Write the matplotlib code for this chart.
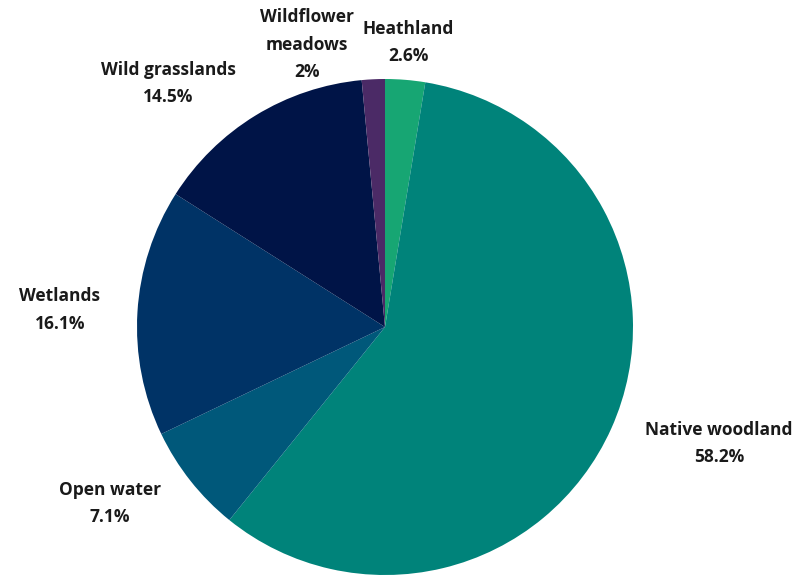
import numpy as np
import matplotlib.pyplot as plt

plt.rcParams['font.family'] = ['Open Sans', 'DejaVu Sans']

labels = ["Heathland", "Native woodland", "Open water", "Wetlands",
          "Wild grasslands", "Wildflower\nmeadows"]
values = [2.6, 58.2, 7.1, 16.1, 14.5, 1.5]   # meadows drawn ~1.5, labelled 2%
pct_text = ["2.6%", "58.2%", "7.1%", "16.1%", "14.5%", "2%"]
colors = ["#17a673", "#00837a", "#00587a", "#003366", "#001447", "#4b2a66"]

fig = plt.figure(figsize=(8, 5.76), dpi=100)
r = 248
ax = fig.add_axes([(385 - r) / 800, (576 - 327 - r) / 576, 2 * r / 800, 2 * r / 576])

texts_lbl = [f"{l}\n{p}" for l, p in zip(labels, pct_text)]
wedges, texts = ax.pie(values, labels=texts_lbl, colors=colors, startangle=90,
                       counterclock=False, labeldistance=1.15,
                       textprops=dict(fontsize=12.5, fontweight='bold', color='#1a1a1a',
                                      multialignment='center', linespacing=1.65))
ax.set_xlim(-1, 1)
ax.set_ylim(-1, 1)
ax.set_aspect('equal')

# small slices at the top get centred labels
texts[0].set_ha('center')
texts[5].set_ha('center')
x, y = texts[5].get_position()
texts[5].set_position((x - 0.26, y - 0.01))

fig.savefig("out.png", dpi=100)
